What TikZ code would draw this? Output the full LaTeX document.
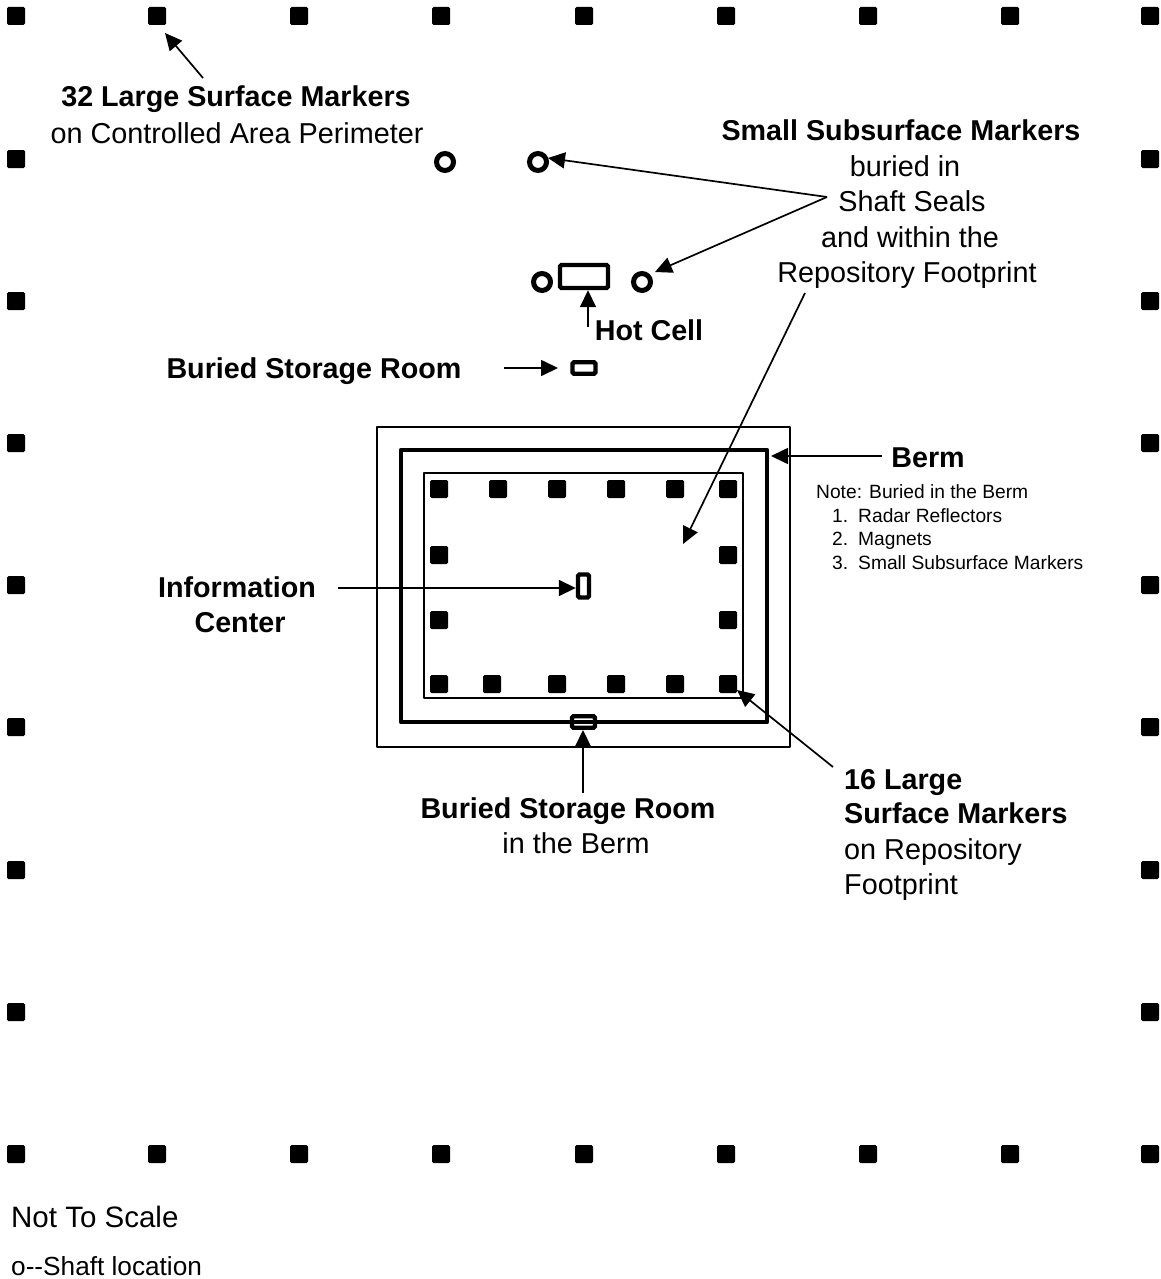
\documentclass[tikz,border=0pt]{standalone}
\usepackage{fontspec}
\setmainfont{Liberation Sans}
\usetikzlibrary{arrows.meta}
\tikzset{
	lbl/.style={anchor=base,inner sep=0pt,yshift=-1pt,font=\fontsize{28.8}{30}\selectfont},
	lblb/.style={lbl,font=\fontsize{28.7}{30}\selectfont\bfseries},
	note/.style={anchor=base west,inner sep=0pt,font=\fontsize{19.2}{20}\selectfont},
	marker/.style={fill=black,draw=none,rounded corners=1.5pt,minimum size=18pt,inner sep=0pt},
	shaft/.style={circle,draw=black,line width=5pt,minimum size=17pt,inner sep=0pt},
	room/.style={draw=black,line width=4.4pt,rounded corners=1.5pt,inner sep=0pt},
	arr/.style={line width=1.7pt,-{Triangle[length=17pt,width=16pt]}},
}
\begin{document}
\begin{tikzpicture}[x=1pt,y=-1pt]
\useasboundingbox (0,0) rectangle (1161,1279);

% berm and footprint
\draw[line width=2.6pt,line join=round] (377,427) rectangle (790,747);
\draw[line width=4.4pt,line join=round] (401,450) rectangle (767,722);
\draw[line width=2.8pt,line join=round] (424,473) rectangle (743,698);

% perimeter markers
\foreach \i/\x in {1/16,2/157,3/299,4/441,5/584,6/726,7/868,8/1010,9/1150} {
	\node[marker] (top\i) at (\x,16) {};
	\node[marker] (bot\i) at (\x,1154) {};
}
\foreach \i/\y in {2/159,3/301,4/443,5/585,6/727,7/870,8/1012} {
	\node[marker] (left\i) at (16,\y) {};
	\node[marker] (right\i) at (1150,\y) {};
}

% footprint markers
\foreach \i/\x in {1/439,2/498,3/557,4/616,5/675,6/728}
	\node[marker] (ft\i) at (\x,489) {};
\foreach \i/\x in {1/439,2/492,3/557,4/616,5/675,6/728}
	\node[marker] (fb\i) at (\x,684) {};
\foreach \i/\y in {1/555,2/620} {
	\node[marker] (fl\i) at (439,\y) {};
	\node[marker] (fr\i) at (728,\y) {};
}

% shafts and rooms
\node[shaft] (shaftA) at (445,162) {};
\node[shaft] (shaftB) at (538,162) {};
\node[shaft] (shaftC) at (542,282) {};
\node[shaft] (shaftD) at (642,282) {};
\node[room,minimum width=48pt,minimum height=23pt] (hotcell) at (584,276.5) {};
\node[room,minimum width=23pt,minimum height=11.5pt] (storage) at (584,368) {};
\node[room,minimum width=11pt,minimum height=23pt] (infocenter) at (583.5,586) {};
\node[room,minimum width=23pt,minimum height=11.5pt] (bermroom) at (583.5,722) {};

% labels
\node[lblb] (perim) at (236,106) {32 Large Surface Markers};
\node[lbl] (perimb) at (237,142) {on Controlled Area Perimeter};
\node[lblb] (subs) at (901,139) {Small Subsurface Markers};
\node[lbl] (subsb) at (905,175) {buried in};
\node[lbl] (subsc) at (912,210) {Shaft Seals};
\node[lbl] (subsd) at (910,246) {and within the};
\node[lbl] (subse) at (907,281) {Repository Footprint};
\node[lblb] (hotlbl) at (649,339) {Hot Cell};
\node[lblb] (storlbl) at (314,377) {Buried Storage Room};
\node[lblb] (bermlbl) at (928,466) {Berm};
\node[note] (notea) at (816,498) {Note: Buried in the Berm};
\node[note] (noteb) at (832,522) {1.};
\node[note] (notec) at (832,545) {2.};
\node[note] (noted) at (832,569) {3.};
\node[note] (noteB) at (858,522) {Radar Reflectors};
\node[note] (noteC) at (858,545) {Magnets};
\node[note] (noteD) at (858,569) {Small Subsurface Markers};
\node[lblb] (infolbl) at (237,596) {Information};
\node[lblb] (infolblb) at (240,631) {Center};
\node[lblb] (bermrlbl) at (568,817) {Buried Storage Room};
\node[lbl] (bermrlblb) at (576,852) {in the Berm};
\node[lblb,anchor=base west] (ringa) at (844,788) {16 Large};
\node[lblb,anchor=base west] (ringb) at (844,822) {Surface Markers};
\node[lbl,anchor=base west] (ringc) at (844,858) {on Repository};
\node[lbl,anchor=base west] (ringd) at (844,893) {Footprint};
\node[lbl,anchor=base west,font=\fontsize{29.5}{30}\selectfont] (scale) at (11,1226) {Not To Scale};
\node[lbl,anchor=base west,font=\fontsize{26.2}{30}\selectfont] (shaftlbl) at (11,1274) {o{-}{-}Shaft location};

% arrows
\coordinate (forkS) at (827,197);
\coordinate (footS) at (805,293);
\coordinate (footE) at (683,544);
\coordinate (perimS) at (203,78);
\coordinate (perimE) at (165,33);
\coordinate (hotS) at (588,327);
\coordinate (storS) at (504,368);
\coordinate (storE) at (558,368);
\coordinate (infoS) at (338,588);
\coordinate (bermS) at (882,456);
\coordinate (bermE) at (771,456);
\coordinate (bermrS) at (583,793);
\coordinate (ringS) at (833,767);
\coordinate (ringE) at (737,690);
\coordinate (shaftBE) at (548,158);
\coordinate (shaftDE) at (655,272);

\draw[arr] (forkS) -- (shaftBE);
\draw[arr] (forkS) -- (shaftDE);
\draw[arr] (footS) -- (footE);
\draw[arr] (perimS) -- (perimE);
\draw[arr] (hotS) -- (hotcell.south -| hotS);
\draw[arr] (storS) -- (storE);
\draw[arr] (infoS) -- (infocenter.west |- infoS);
\draw[arr] (bermS) -- (bermE);
\draw[arr] (bermrS) -- (bermroom.south -| bermrS);
\draw[arr] (ringS) -- (ringE);
\end{tikzpicture}
\end{document}
